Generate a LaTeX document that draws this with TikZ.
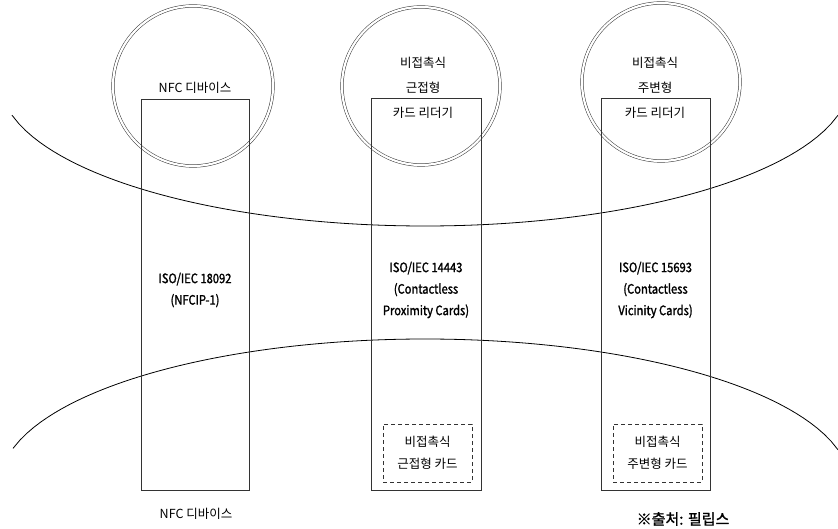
\documentclass[tikz,border=0pt]{standalone}
\usepackage{fontspec}
\setmainfont{Noto Sans CJK KR}
\newfontfamily\isofont[FakeStretch=0.86,FakeBold=1.6]{Noto Sans CJK KR}
\newfontfamily\srcfont[FakeBold=1.4]{Noto Sans CJK KR}
\begin{document}
\begin{tikzpicture}[x=1pt,y=-1pt,
  ring/.style={circle,draw=black!80,double=white,double distance=2.2pt,line width=0.5pt,inner sep=0pt},
  stdbox/.style={draw=black!80,line width=0.6pt,inner sep=0pt},
  cardbox/.style={draw=black!80,dashed,dash pattern=on 4pt off 3pt,line width=0.6pt,inner sep=0pt,minimum width=89pt,minimum height=58pt},
  lbl/.style={font=\fontsize{12.5}{15}\selectfont,inner sep=0pt,align=center},
  iso/.style={font=\isofont\fontsize{13}{21.5}\selectfont,inner sep=0pt,align=center},
  band/.style={line width=0.8pt,black}]
\useasboundingbox (0,0) rectangle (838,529);
% field boundaries
\draw[band] plot[domain=12:838,samples=120] (\x,{81+145*sqrt(max(0,1-((\x-425)/425)^2))});
\draw[band] plot[domain=13:838,samples=120] (\x,{484-145*sqrt(max(0,1-((\x-425)/425)^2))});
% circles
\node[ring,minimum size=160pt] (c1) at (193,86) {};
\node[ring,minimum size=158pt] (c2) at (421,86) {};
\node[ring,minimum size=158pt] (c3) at (661,82) {};
% standard boxes
\node[stdbox,minimum width=108pt,minimum height=391pt] (b1) at (195,294.5) {};
\node[stdbox,minimum width=110pt,minimum height=392pt] (b2) at (426,294) {};
\node[stdbox,minimum width=109pt,minimum height=392pt] (b3) at (655.5,294) {};
% circle labels
\node[lbl] (t1) at (195,88) {NFC 디바이스};
\node[lbl] (t2a) at (423,63) {비접촉식};
\node[lbl] (t2b) at (423,88) {근접형};
\node[lbl] (t2c) at (423,113) {카드 리더기};
\node[lbl] (t3a) at (655,63) {비접촉식};
\node[lbl] (t3b) at (655,88) {주변형};
\node[lbl] (t3c) at (655,113) {카드 리더기};
% standard labels
\node[iso] (s1) at (195,290) {ISO/IEC 18092\\(NFCIP-1)};
\node[iso] (s2) at (426,290) {ISO/IEC 14443\\(Contactless\\Proximity Cards)};
\node[iso] (s3) at (655.5,290) {ISO/IEC 15693\\(Contactless\\Vicinity Cards)};
% card boxes
\node[cardbox] (d2) at (427.5,453) {};
\node[cardbox] (d3) at (657.5,453) {};
\node[lbl] (e2) at (427.5,453) {비접촉식\\[7pt]근접형 카드};
\node[lbl] (e3) at (657.5,453) {비접촉식\\[7pt]주변형 카드};
% bottom labels
\node[lbl] (n1) at (196,514) {NFC 디바이스};
\node[font=\srcfont\fontsize{15}{18}\selectfont,inner sep=0pt] (src) at (683,519) {※출처: 필립스};
\end{tikzpicture}
\end{document}
